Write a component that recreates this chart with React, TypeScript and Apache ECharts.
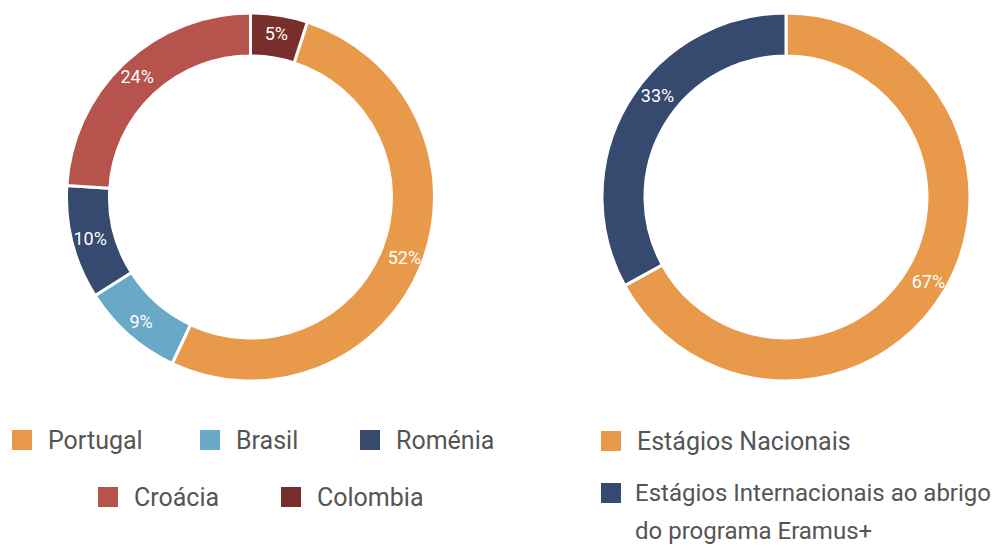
import React, { useEffect, useRef } from "react";
import * as echarts from "echarts";

const countryNames = ["Portugal", "Brasil", "Roménia", "Croácia", "Colombia"];
const countryValues = [52, 9, 10, 24, 5];
const countryColors = ["#E89A4A", "#69A8C6", "#36496E", "#B5534C", "#782F2B"];

const stageNames = ["Estágios Nacionais", "Estágios Internacionais ao abrigo do programa Eramus+"];
const stageLegendLines = ["Estágios Internacionais ao abrigo", "do programa Eramus+"];
const stageValues = [67, 33];
const stageColors = ["#E89A4A", "#36496E"];

const FONT = "Roboto, 'Noto Sans', sans-serif";

export default function App() {
  const ref = useRef<HTMLDivElement>(null);
  useEffect(() => {
    if (!ref.current) return;
    const chart = echarts.init(ref.current, undefined, { renderer: "svg" });
    const labelStyle = {
      show: true,
      position: "inside",
      color: "#ffffff",
      fontSize: 18,
      fontFamily: FONT,
      formatter: "{c}%",
    };
    const rich = {
      t: { color: "#555555", fontSize: 25, fontFamily: FONT, lineHeight: 38, padding: [0, 0, 0, 10] },
      s: { color: "#555555", fontSize: 24, fontFamily: FONT, lineHeight: 38, padding: [0, 0, 0, 8] },
    };
    const legendText = { color: "#555555", fontSize: 25, fontFamily: FONT, lineHeight: 38, rich };
    const leftLegendPos = [
      { left: 10, top: 421 },
      { left: 198, top: 421 },
      { left: 358, top: 421 },
      { left: 96, top: 478 },
      { left: 279, top: 478 },
    ];
    const baseLegend = {
      padding: 0,
      itemWidth: 22,
      itemHeight: 22,
      itemGap: 0,
      icon: "rect",
      selectedMode: false,
      textStyle: legendText,
    };
    const legends: any[] = countryNames.map((n, i) => ({
      ...baseLegend,
      data: [n],
      left: leftLegendPos[i].left,
      top: leftLegendPos[i].top,
      formatter: (name: string) => `{t|${name}}`,
    }));
    legends.push({
      ...baseLegend,
      data: [stageNames[0]],
      left: 599,
      top: 422,
      formatter: (name: string) => `{t|${name}}`,
    });
    legends.push({
      ...baseLegend,
      data: [stageNames[1]],
      left: 599,
      top: 436,
      formatter: () => `{s| }\n{s|${stageLegendLines[0]}}\n{s|${stageLegendLines[1]}}`,
    });

    chart.setOption({
      animation: false,
      backgroundColor: "#ffffff",
      textStyle: { fontFamily: FONT },
      legend: legends,
      series: [
        {
          type: "pie",
          center: [250.5, 197],
          radius: [141, 184],
          startAngle: 90 - (360 * countryValues[4]) / countryValues.reduce((a, b) => a + b, 0),
          clockwise: true,
          avoidLabelOverlap: false,
          itemStyle: { borderColor: "#ffffff", borderWidth: 3 },
          label: labelStyle,
          labelLine: { show: false },
          emphasis: { disabled: true },
          data: countryNames.map((n, i) => ({ name: n, value: countryValues[i], itemStyle: { color: countryColors[i] } })),
        },
        {
          type: "pie",
          center: [786, 197],
          radius: [141, 184],
          startAngle: 90,
          clockwise: true,
          avoidLabelOverlap: false,
          itemStyle: { borderColor: "#ffffff", borderWidth: 3 },
          label: labelStyle,
          labelLine: { show: false },
          emphasis: { disabled: true },
          labelLayout: (params: any) => (params.dataIndex === 1 ? { dx: 14, dy: -17 } : {}),
          data: stageNames.map((n, i) => ({ name: n, value: stageValues[i], itemStyle: { color: stageColors[i] } })),
        },
      ],
    });
    return () => chart.dispose();
  }, []);
  return (
    <div
      ref={ref}
      style={{ position: "fixed", left: 0, top: 0, width: 992, height: 546, background: "#fff" }}
    />
  );
}
